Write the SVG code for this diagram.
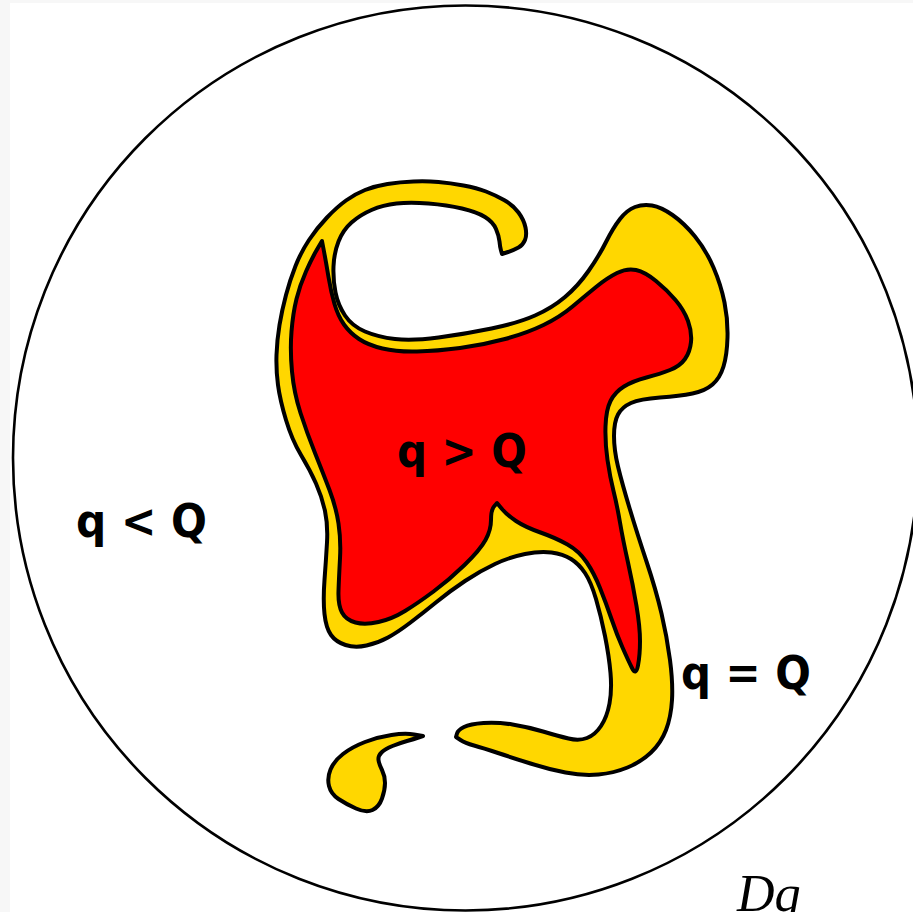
<svg xmlns="http://www.w3.org/2000/svg" width="913" height="912" viewBox="0 0 913 912">
<style>
.lbl{font-family:"DejaVu Sans",sans-serif;font-weight:bold;font-size:46px;fill:#000}
.reg{stroke:#000;stroke-width:4;stroke-linejoin:round}
</style>
<rect x="0" y="0" width="913" height="912" fill="#f7f7f7"/>
<rect x="10" y="3" width="903" height="909" fill="#fff"/>
<g id="domain">
<circle cx="465.5" cy="458" r="452.5" fill="none" stroke="#000" stroke-width="2.6"/>
</g>
<g id="yellow-main">
<path class="reg" fill="#FFD700" d="M502,254 L508,252 Q514,250 518.5,247.5 Q523,245 525,240 Q527,235 525.5,227.5 Q524,220 518.5,212.5 Q513,205 504,200 Q495,195 486,191.5 Q477,188 463.5,185.5 Q450,183 438.5,182 Q427,181 413.5,181.5 Q400,182 387.5,184 Q375,186 365,190 Q355,194 346,200.5 Q337,207 327,217.5 Q317,228 309,240 Q301,252 295.5,266 Q290,280 286,295 Q282,310 279.5,325 Q277,340 276.5,355 Q276,370 278,385 Q280,400 286,420 Q292,440 301,455 Q310,470 316,483.5 Q322,497 325,511 Q328,525 327,542.5 Q326,560 324.5,580 Q323,600 324.5,614 Q326,628 331,635 Q336,642 345.5,645 Q355,648 366.5,645.5 Q378,643 388,637.5 Q398,632 410.5,622.5 Q423,613 436.5,602 Q450,591 465,581 Q480,571 495,564 Q510,557 525,554 Q540,551 551.5,552.5 Q563,554 571,559 Q579,564 585,573 Q591,582 596,599 Q601,616 605,636 Q609,656 610.5,673 Q612,690 609.5,703.5 Q607,717 601,726 Q595,735 587,738 Q579,741 568.5,738.5 Q558,736 543,731.5 Q528,727 512.5,724.5 Q497,722 483.5,723 Q470,724 464,727 Q458,730 457,733.5 L456,737 L460.5,740 Q465,743 474,745.5 Q483,748 498,753 Q513,758 530.5,763.5 Q548,769 565.5,772.5 Q583,776 598.5,774.5 Q614,773 627.5,767.5 Q641,762 651,752.5 Q661,743 666,730 Q671,717 672,700 Q673,683 670,660 Q667,637 661.5,613.5 Q656,590 646.5,561.5 Q637,533 629.5,508 Q622,483 618,466.5 Q614,450 614,436 Q614,422 618,414.5 Q622,407 631,403 Q640,399 660,397.5 Q680,396 692.5,393.5 Q705,391 712.5,384.5 Q720,378 723.5,366.5 Q727,355 727.5,337.5 Q728,320 724.5,302.5 Q721,285 713.5,267.5 Q706,250 695,236.5 Q684,223 672.5,215 Q661,207 652,205.5 Q643,204 635,207 Q627,210 620,219 Q613,228 606,242 Q599,256 588.5,271 Q578,286 565,297 Q552,308 535,315.5 Q518,323 491.5,328.5 Q465,334 438.5,337.5 Q412,341 395,339 Q378,337 365,331.5 Q352,326 345,315.5 Q338,305 335.5,292.5 Q333,280 333.5,266.5 Q334,253 338.5,241.5 Q343,230 351.5,222.5 Q360,215 371.5,210 Q383,205 396.5,203.5 Q410,202 428.5,203.5 Q447,205 462,208.5 Q477,212 485,217 Q493,222 496,229 Q499,236 499.5,241.5 Q500,247 501,250.5 Z"/>
</g>
<g id="red-core">
<path class="reg" fill="#FF0000" d="M322,241 L324,251.5 Q326,262 328.5,277 Q331,292 334.5,304 Q338,316 344,324.5 Q350,333 359,339 Q368,345 382.5,348.5 Q397,352 417,351.5 Q437,351 460,348 Q483,345 505,339 Q527,333 543.5,325 Q560,317 572.5,306.5 Q585,296 596,287 Q607,278 617,273 Q627,268 636,270 Q645,272 656,281 Q667,290 675.5,300 Q684,310 688,321 Q692,332 691,342 Q690,352 685,359 Q680,366 670,370 Q660,374 646.5,377.5 Q633,381 624,386.5 Q615,392 610.5,401 Q606,410 605.5,426.5 Q605,443 607.5,460 Q610,477 613.5,491 Q617,505 620,522.5 Q623,540 628,562.5 Q633,585 636.5,606 Q640,627 640,641 Q640,655 638,665.5 Q636,676 632,668 Q628,660 622.5,647.5 Q617,635 611.5,619 Q606,603 600,588 Q594,573 586.5,562 Q579,551 567.5,544.5 Q556,538 540.5,532.5 Q525,527 516,521 Q507,515 502,509 L497,503 L494,506.5 Q491,510 491,520 Q491,530 485.5,540 Q480,550 464.5,565 Q449,580 433.5,591.5 Q418,603 405,611 Q392,619 378.5,622 Q365,625 355.5,622.5 Q346,620 342,612.5 Q338,605 338.5,591 Q339,577 340,558.5 Q341,540 338.5,523.5 Q336,507 329.5,490 Q323,473 315,453 Q307,433 300.5,413 Q294,393 292,371.5 Q290,350 291.5,331.5 Q293,313 296.5,299 Q300,285 306,271.5 Q312,258 317,249.5 Z"/>
</g>
<g id="yellow-blob">
<path class="reg" fill="#FFD700" d="M423,736 L414,734.5 Q405,733 391.5,735 Q378,737 365,742 Q352,747 343,754 Q334,761 330.5,769.5 Q327,778 329,786 Q331,794 338.5,799 Q346,804 356,808.5 Q366,813 372.5,810 Q379,807 382,798.5 Q385,790 385,783 Q385,776 382,770 Q379,764 378.5,760 Q378,756 381.5,752.5 Q385,749 392.5,746 Q400,743 407,741 Q414,739 418.5,737.5 Z"/>
</g>
<g id="labels">
<text class="lbl" x="76" y="537" textLength="131" lengthAdjust="spacingAndGlyphs">q &lt; Q</text>
<text class="lbl" x="397" y="467" textLength="130" lengthAdjust="spacingAndGlyphs">q &gt; Q</text>
<text class="lbl" x="681" y="689" textLength="130" lengthAdjust="spacingAndGlyphs">q = Q</text>
<text x="737" y="911" font-family="'Liberation Serif',serif" font-style="italic" font-size="52" fill="#000">Dq</text>
</g>
</svg>
